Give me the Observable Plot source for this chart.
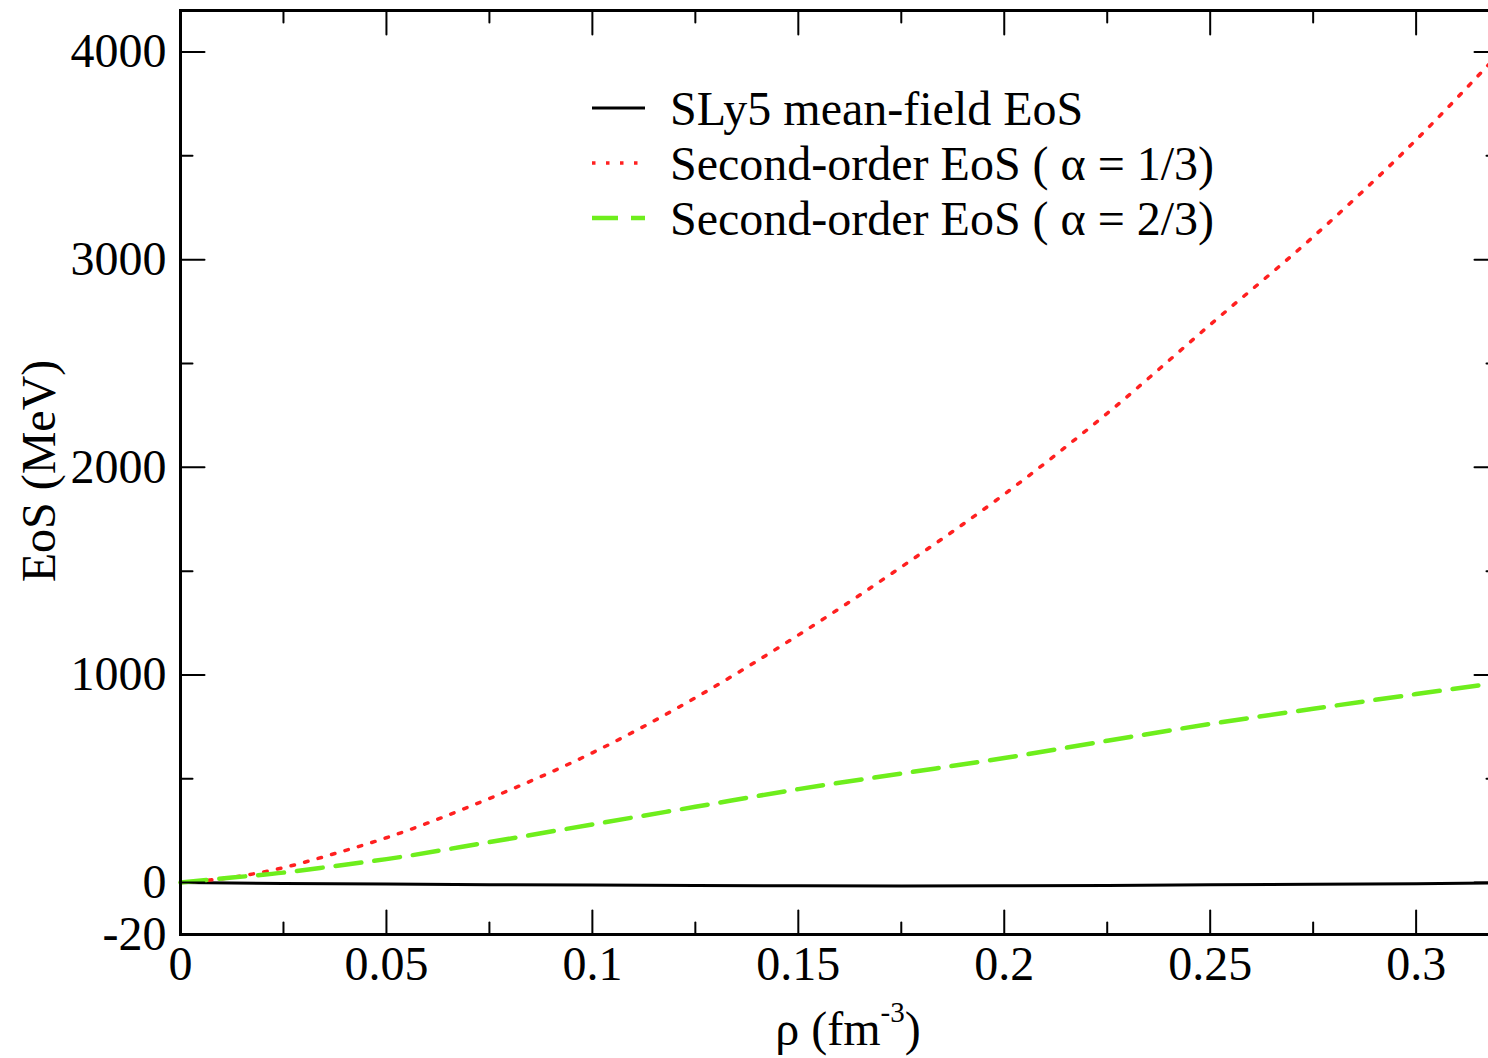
<!DOCTYPE html>
<html>
<head>
<meta charset="utf-8">
<script src="https://cdn.jsdelivr.net/npm/d3@7"></script>
<script src="https://cdn.jsdelivr.net/npm/@observablehq/plot@0.6"></script>
<style>
  html, body { margin: 0; padding: 0; background: white; }
  #chart svg { display: block; }
</style>
</head>
<body>
<div id="chart"></div>
<script>
// ---- Data ----
const rho      = [0, 0.0125, 0.025, 0.0375, 0.05, 0.075, 0.1, 0.125, 0.15, 0.175, 0.2, 0.225, 0.25, 0.275, 0.3, 0.32];
const sly5     = [0, -2, -4, -5, -7, -10, -12, -14, -15.5, -16, -15, -14, -11, -8, -5, -1];
const alpha13  = [0, 25, 72, 140, 216, 405, 625, 890, 1192, 1520, 1870, 2260, 2687, 3110, 3577, 3990];
const alpha23  = [0, 24, 48, 80, 113, 195, 280, 365, 450, 525, 600, 683, 764, 837, 908, 963];

const seriesNames = ["SLy5 mean-field EoS", "Second-order EoS ( α = 1/3)", "Second-order EoS ( α = 2/3)"];

const xMajorTicks = [0, 0.05, 0.1, 0.15, 0.2, 0.25, 0.3];
const xTickLabels = ["0", "0.05", "0.1", "0.15", "0.2", "0.25", "0.3"];
const xMinorTicks = [0.025, 0.075, 0.125, 0.175, 0.225, 0.275];
const yMajorTicks = [0, 1000, 2000, 3000, 4000];
const yMinorTicks = [500, 1500, 2500, 3500];
const yLabelTicks = [-250, 0, 1000, 2000, 3000, 4000];
const yTickLabels = ["-20", "0", "1000", "2000", "3000", "4000"];

const xDomain = [0, 0.32];
const yDomain = [-250, 4200];

// ---- Build tables ----
const tSly5 = rho.map((r, i) => ({rho: r, e: sly5[i]}));
const tA13  = rho.map((r, i) => ({rho: r, e: alpha13[i]}));
const tA23  = rho.map((r, i) => ({rho: r, e: alpha23[i]}));

const tickShape = {draw(context, l) { context.moveTo(0, 0); context.lineTo(0, -l); }};
const tickStyle = {stroke: "black", strokeWidth: 2, anchor: "start", shape: tickShape};

const xLabelMap = new Map(xMajorTicks.map((v, i) => [v, xTickLabels[i]]));
const yLabelMap = new Map(yLabelTicks.map((v, i) => [v, yTickLabels[i]]));

const FONT = "'Liberation Serif', 'Times New Roman', serif";
const FS = 48;
const MAJOR = 24, MINOR = 12;

const chart = Plot.plot({
  width: 1488,
  height: 1058,
  marginLeft: 180,
  marginTop: 10,
  marginBottom: 124,
  marginRight: -10,
  x: {domain: xDomain},
  y: {domain: yDomain},
  style: {fontFamily: FONT, fontSize: FS + "px", color: "black", background: "white", overflow: "hidden"},
  marks: [
    Plot.line(tSly5, {x: "rho", y: "e", stroke: "black", strokeWidth: 3}),
    Plot.line(tA13, {x: "rho", y: "e", stroke: "#ff2020", strokeWidth: 3.5, strokeDasharray: "3.5 10.5", curve: "monotone-x"}),
    Plot.line(tA23, {x: "rho", y: "e", stroke: "#6eee1c", strokeWidth: 4.5, strokeDasharray: "26 13", curve: "monotone-x"}),
    Plot.frame({stroke: "black", strokeWidth: 3}),
    // inward ticks, bottom
    Plot.vector(xMajorTicks, {x: d => d, frameAnchor: "bottom", length: MAJOR, rotate: 0, ...tickStyle}),
    Plot.vector(xMinorTicks, {x: d => d, frameAnchor: "bottom", length: MINOR, rotate: 0, ...tickStyle}),
    // top
    Plot.vector(xMajorTicks, {x: d => d, frameAnchor: "top", length: MAJOR, rotate: 180, ...tickStyle}),
    Plot.vector(xMinorTicks, {x: d => d, frameAnchor: "top", length: MINOR, rotate: 180, ...tickStyle}),
    // left
    Plot.vector(yMajorTicks, {y: d => d, frameAnchor: "left", length: MAJOR, rotate: 90, ...tickStyle}),
    Plot.vector(yMinorTicks, {y: d => d, frameAnchor: "left", length: MINOR, rotate: 90, ...tickStyle}),
    // right
    Plot.vector(yMajorTicks, {y: d => d, frameAnchor: "right", length: MAJOR, rotate: -90, ...tickStyle}),
    Plot.vector(yMinorTicks, {y: d => d, frameAnchor: "right", length: MINOR, rotate: -90, ...tickStyle}),
    // tick labels
    Plot.axisX(xMajorTicks, {tickSize: 0, tickPadding: 11, tickFormat: d => xLabelMap.get(d), label: null}),
    Plot.axisY(yLabelTicks, {tickSize: 0, tickPadding: 14, tickFormat: d => yLabelMap.get(d), label: null})
  ]
});

document.getElementById("chart").appendChild(chart);

// ---- Axis titles and legend (text decorations) ----
const svg = d3.select(chart);

const xt = svg.append("text")
  .attr("x", 848).attr("y", 1045)
  .attr("text-anchor", "middle")
  .attr("font-family", FONT).attr("font-size", FS).attr("fill", "black");
xt.append("tspan").text("ρ (fm");
xt.append("tspan").attr("font-size", 29).attr("dy", -23).text("-3");
xt.append("tspan").attr("dy", 23).text(")");

svg.append("text")
  .attr("transform", "translate(55,471) rotate(-90)")
  .attr("text-anchor", "middle")
  .attr("font-family", FONT).attr("font-size", FS).attr("fill", "black")
  .text("EoS (MeV)");

const legendItems = [
  {name: seriesNames[0], stroke: "black", width: 3, dash: null},
  {name: seriesNames[1], stroke: "#ff2020", width: 3.5, dash: "3.5 10.5"},
  {name: seriesNames[2], stroke: "#6eee1c", width: 4.5, dash: "26 13"}
];
const lg = svg.append("g");
legendItems.forEach((it, i) => {
  const cy = 108 + i * 55;
  const ln = lg.append("line")
    .attr("x1", 592).attr("x2", 645).attr("y1", cy).attr("y2", cy)
    .attr("stroke", it.stroke).attr("stroke-width", it.width);
  if (it.dash) ln.attr("stroke-dasharray", it.dash);
  lg.append("text")
    .attr("x", 670).attr("y", cy + 17)
    .attr("text-anchor", "start")
    .attr("font-family", FONT).attr("font-size", FS).attr("fill", "black")
    .text(it.name);
});
</script>
</body>
</html>
